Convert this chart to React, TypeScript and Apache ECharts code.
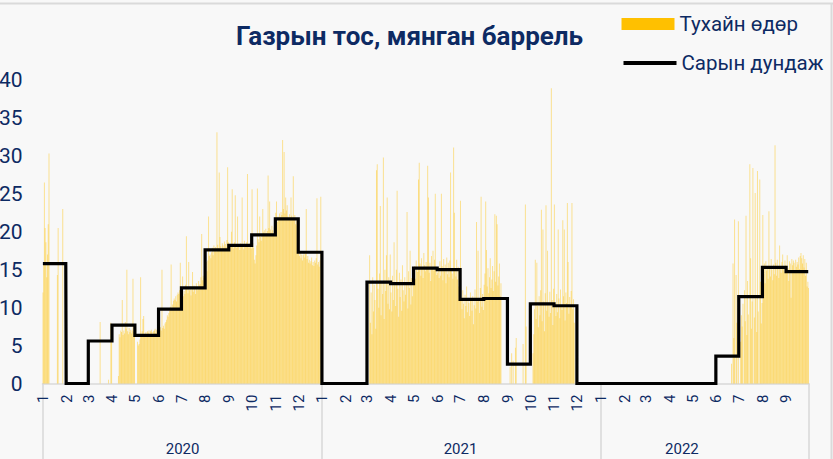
import React, { useEffect, useRef } from "react";
import * as echarts from "echarts";

const TITLE = "Газрын тос, мянган баррель";
const SERIES_DAILY = "Тухайн өдөр";
const SERIES_AVG = "Сарын дундаж";
const YEARS = [2020, 2021, 2022];

// daily values, one array per month
const daily2020: number[][] = [
  [12, 16, 26.5, 20.5, 18.6, 14, 17, 21, 30.3, 0, 0, 0, 0, 0, 0, 0, 0, 0, 0, 14.3, 20.5, 0, 0, 0, 0, 0, 23, 0, 0, 0, 0],
  [0, 0, 0, 0, 0, 0, 0, 0, 0, 0, 0, 0, 0, 0, 0, 0, 0, 0, 0, 0, 0, 0, 0, 0, 0, 0, 0, 0, 0],
  [0, 0, 0, 0, 0, 0, 0, 0, 0, 0, 0, 0, 0, 0, 0, 8.1, 0, 0, 0, 0, 0, 0, 0, 0, 0, 0, 0.5, 0, 0, 8, 7.5],
  [0, 0, 0, 0, 0, 0, 0, 0, 1, 6.5, 6.1, 7, 6.8, 11, 6.4, 7, 6.6, 8.1, 7.2, 15, 6.9, 6.5, 7.3, 6.8, 7.1, 6.6, 7, 13.8, 6.8, 6.7],
  [0, 0, 0, 5.5, 5, 5.2, 5.8, 14, 6.3, 6.9, 8.5, 8.9, 6.2, 6.6, 6.8, 6.4, 6.9, 6.7, 7, 6.5, 6.9, 7.1, 6.8, 6.2, 6.9, 7, 7.2, 6.6, 7.1, 6.9, 6.8],
  [6.8, 7.1, 7.4, 7.0, 15, 7.3, 7.6, 7.2, 7.9, 8.1, 8.4, 9, 8.8, 9.3, 9.6, 10.1, 15.7, 9.8, 10.4, 10.9, 11.2, 11, 11.5, 10.8, 11.7, 12, 11.8, 12.3, 15.9, 12.1],
  [12, 14.1, 11.5, 12.2, 11.8, 13, 19.4, 12.5, 11.9, 16, 12.3, 12.8, 11.6, 12.4, 14.7, 12.1, 12.9, 12.6, 11.8, 13.2, 12.7, 12.3, 13.5, 12.9, 13.1, 14, 19.7, 13.6, 14.2, 13.9, 14.5],
  [15.5, 16, 14.8, 16.2, 22, 16.8, 17, 16.5, 17.3, 17.9, 16.9, 18.2, 17.5, 18, 17.4, 33.1, 18.3, 17.8, 27.8, 19.3, 18.1, 17.6, 18.5, 18.2, 17.9, 18.7, 18.4, 18, 18.9, 28.5, 18.6],
  [18, 17.5, 18.3, 20, 25.6, 18.1, 17.8, 18.6, 24.8, 18.2, 17.9, 22, 18.4, 18, 17.6, 18.5, 18.3, 24.5, 18.1, 17.7, 18.8, 18.2, 18, 18.6, 27.6, 18.3, 17.9, 18.5, 18.1, 17.8],
  [25.6, 18.5, 17.9, 16.3, 15.8, 16.9, 18.2, 25.7, 19, 18.6, 22, 19.3, 18.8, 19.5, 23, 19.9, 20.2, 19.6, 20.4, 19.8, 20.1, 27.4, 20.5, 24, 20.3, 19.9, 20.8, 20.2, 19.7, 20.6, 20.9],
  [22.5, 24, 21.3, 22, 21.7, 22.4, 21.9, 22.6, 22.2, 32.1, 23, 30.5, 22.4, 24.5, 22.8, 23.5, 22, 21.6, 22.3, 21.9, 24.5, 22.1, 21.5, 27.3, 21.8, 22.2, 21, 21.5, 20.8, 21.2],
  [17.5, 16.8, 17.2, 16.5, 17, 16.2, 16.9, 17.4, 16.6, 17.1, 23, 16.4, 16.8, 15.9, 16.3, 15.8, 16.1, 16.6, 15.6, 16, 15.5, 16.2, 15.9, 16.5, 24.4, 15.7, 16, 15.4, 16.2, 24.6, 15.8],
];

const daily2021: number[][] = [
  [0, 0, 0, 0, 0, 0, 0, 0, 0, 0, 0, 0, 0, 0, 0, 0, 0, 0, 0, 0, 0, 0, 0, 0, 0, 0, 0, 0, 0, 0, 0],
  [0, 0, 0, 0, 0, 0, 0, 0, 0, 0, 0, 0, 0, 0, 0, 0, 0, 0, 0, 0, 0, 0, 0, 0, 0, 0, 0, 0],
  [0, 0, 0, 16.9, 8, 12, 6.5, 14, 9.5, 13, 11, 7.2, 28.1, 28.9, 12.5, 10, 14.5, 23.4, 9, 13.5, 11.8, 29.8, 8.5, 15, 12.2, 16.9, 24.5, 10.5, 14, 9.8, 17],
  [12, 9.5, 14.2, 11, 18.6, 13.1, 10.2, 15, 25.4, 12.5, 8.8, 14.6, 11.4, 13.7, 9.6, 15.6, 12.3, 10.8, 14, 11.7, 13.2, 22.6, 9.9, 14.8, 12.6, 17.5, 10.4, 13.9, 11.5, 14.3],
  [14, 15.5, 13.8, 16.2, 15, 14.7, 26.9, 29.1, 15.8, 14.2, 16.5, 15.3, 13.9, 17.2, 15.6, 14.8, 16, 15.2, 28.7, 24.5, 14.6, 15.9, 13.5, 16.8, 15.1, 17.5, 14.9, 16.3, 25, 15.4, 14.3],
  [14.6, 15.3, 13.9, 16.1, 14.2, 25, 15.5, 13.6, 16.4, 14.8, 15.7, 13.2, 16.6, 14.4, 15.9, 14, 16.2, 27.8, 15.1, 14.5, 13.8, 31.1, 22.5, 15, 14.1, 16.3, 13.7, 15.4, 12.8, 14.9],
  [24.1, 11, 9.8, 12.3, 10.5, 8.6, 11.7, 10.2, 12.8, 9.4, 11.3, 10.6, 8.9, 12, 10.9, 9.6, 11.5, 7.8, 10.3, 12.4, 9.9, 21.3, 10.8, 17.5, 11.2, 9.3, 12.6, 24.6, 10.1, 11.8, 9.7],
  [13, 14.5, 24, 17.6, 12.8, 15.2, 11.9, 14, 16.5, 12.6, 13.7, 15.5, 12.2, 14.8, 22.3, 13.4, 22.1, 21, 12.9, 14.1, 15.8, 11.5, 13.2, 0, 0, 0, 0, 0, 0, 0, 0],
  [0, 0, 0, 2.2, 0, 4, 0, 3, 0, 0, 4.7, 6, 0, 0, 0, 0, 0, 0, 0, 0, 5.2, 0, 0, 23.6, 7.5, 0, 0, 0, 0, 0],
  [0, 0, 0, 4, 6.5, 9.8, 16.3, 8.5, 15.9, 10.2, 7.4, 11.5, 9, 12.3, 22.9, 8.2, 20.3, 10.8, 6.9, 11.9, 23.5, 9.6, 17.5, 10.4, 8.8, 12.1, 9.3, 38.9, 11, 7.7, 12.5],
  [23.6, 10.5, 8.9, 11.8, 9.4, 20.3, 11.2, 8.6, 12.4, 10.1, 9.7, 21.5, 11.5, 20.3, 8.3, 12, 10.6, 23.8, 16, 9.2, 11.4, 10.3, 12.2, 23.8, 9.8, 11.1, 8, 0, 0, 0],
  [0, 0, 0, 0, 0, 0, 0, 0, 0, 0, 0, 0, 0, 0, 0, 0, 0, 0, 0, 0, 0, 0, 0, 0, 0, 0, 0, 0, 0, 0, 0],
];

const daily2022: number[][] = [
  [0, 0, 0, 0, 0, 0, 0, 0, 0, 0, 0, 0, 0, 0, 0, 0, 0, 0, 0, 0, 0, 0, 0, 0, 0, 0, 0, 0, 0, 0, 0],
  [0, 0, 0, 0, 0, 0, 0, 0, 0, 0, 0, 0, 0, 0, 0, 0, 0, 0, 0, 0, 0, 0, 0, 0, 0, 0, 0, 0],
  [0, 0, 0, 0, 0, 0, 0, 0, 0, 0, 0, 0, 0, 0, 0, 0, 0, 0, 0, 0, 0, 0, 0, 0, 0, 0, 0, 0, 0, 0, 0],
  [0, 0, 0, 0, 0, 0, 0, 0, 0, 0, 0, 0, 0, 0, 0, 0, 0, 0, 0, 0, 0, 0, 0, 0, 0, 0, 0, 0, 0, 0],
  [0, 0, 0, 0, 0, 0, 0, 0, 0, 0, 0, 0, 0, 0, 0, 0, 0, 0, 0, 0, 0, 0, 0, 0, 0, 0, 0, 0, 0, 0, 0],
  [0, 0, 0, 0, 0, 0, 0, 0, 0, 0, 0, 0, 0, 0, 0, 0, 0, 0, 0, 0, 2.6, 0, 15.8, 6, 21.6, 0, 14.3, 8, 0, 21.4],
  [0, 0, 5.5, 9, 7.5, 10.5, 0, 12.3, 8.2, 22.1, 6.4, 13.5, 9.1, 0, 28.9, 16.5, 7.2, 10.8, 28.4, 0, 8.7, 25.1, 11.2, 6.8, 28, 9.5, 0, 26.9, 13.4, 7.9, 10.6],
  [22.2, 14.5, 15.8, 13.2, 16.1, 14.9, 15.5, 13.8, 22.7, 15.2, 14.1, 16.4, 15, 13.6, 15.7, 14.4, 31.4, 15.9, 14.2, 16.3, 15.1, 13.9, 18.2, 15.4, 14.6, 16, 17, 15.3, 14.8, 16.2, 15.6],
  [14.8, 16.9, 15.2, 13.5, 16.1, 15.8, 11.3, 16.4, 15.6, 16.2, 15.9, 14.7, 16.3, 15.4, 16, 15.7, 16.6, 15.1, 16.8, 17.2, 16.5, 15.8, 16.9, 15.3, 16.4, 14.2, 15.9, 12.8, 13.4, 12.6],
];

// monthly averages
const monthlyAvg2020 = [15.8, 0, 5.6, 7.7, 6.35, 9.8, 12.6, 17.6, 18.2, 19.6, 21.7, 17.3];
const monthlyAvg2021 = [0, 0, 13.35, 13.15, 15.2, 15.0, 11.1, 11.2, 2.55, 10.5, 10.25, 0];
const monthlyAvg2022 = [0, 0, 0, 0, 0, 3.6, 11.45, 15.3, 14.75];

const Y_MIN = 0;
const Y_MAX = 40;
const Y_INTERVAL = 5;

// day (within the year) at which each year label sits
const YEAR_LABEL_DAY = [183, 181, 106];

const NAVY = "#0D2A63";
const FONT = "Roboto, 'Noto Sans', sans-serif";

function build() {
  const yearData: [number, number[][], number[]][] = [
    [YEARS[0], daily2020, monthlyAvg2020],
    [YEARS[1], daily2021, monthlyAvg2021],
    [YEARS[2], daily2022, monthlyAvg2022],
  ];
  const dates: string[] = [];
  const values: number[] = [];
  const avg: number[] = [];
  const monthStarts = new Set<number>();
  const yearStarts = new Set<number>();
  const yearLabels = new Set<number>();
  yearData.forEach(([year, months, avgs], yi) => {
    yearStarts.add(dates.length);
    yearLabels.add(dates.length + YEAR_LABEL_DAY[yi]);
    months.forEach((days, mi) => {
      monthStarts.add(dates.length);
      days.forEach((v, di) => {
        dates.push(`${year}-${mi + 1}-${di + 1}`);
        values.push(v);
        avg.push(avgs[mi]);
      });
    });
  });
  return { dates, values, avg, monthStarts, yearStarts, yearLabels };
}

export default function App() {
  const ref = useRef<HTMLDivElement>(null);
  useEffect(() => {
    if (!ref.current) return;
    const chart = echarts.init(ref.current, undefined, { renderer: "svg" });
    const { dates, values, avg, monthStarts, yearStarts, yearLabels } = build();
    const legendText = { fontSize: 20.5, lineHeight: 22, color: NAVY, fontFamily: FONT };
    chart.setOption({
      animation: false,
      backgroundColor: "#F8F8F8",
      textStyle: { fontFamily: FONT },
      title: {
        text: TITLE,
        left: 236,
        top: 23,
        padding: 0,
        textStyle: { fontSize: 26, fontWeight: "bold", color: NAVY, fontFamily: FONT },
      },
      legend: [
        {
          data: [{ name: SERIES_DAILY, icon: "rect" }],
          left: 621.5,
          top: 13,
          padding: 0,
          itemWidth: 53,
          itemHeight: 12,
          selectedMode: false,
          itemStyle: { color: "#FFC000", opacity: 1 },
          textStyle: legendText,
        },
        {
          data: [{ name: SERIES_AVG }],
          left: 621.5,
          top: 52,
          padding: 0,
          itemWidth: 53,
          itemHeight: 12,
          selectedMode: false,
          itemStyle: { opacity: 0 },
          lineStyle: { width: 4, color: "#000" },
          textStyle: legendText,
        },
      ],
      grid: { left: 42.5, top: 80, width: 766.5, height: 303.5, outerBoundsMode: "none", containLabel: false },
      xAxis: [
        {
          type: "category",
          data: dates,
          position: "bottom",
          axisLine: { show: true, lineStyle: { color: "#D9D9D9", width: 1.5 } },
          axisTick: {
            show: true,
            interval: (i: number) => yearStarts.has(i),
            length: 76,
            lineStyle: { color: "#D9D9D9", width: 1.5 },
          },
          axisLabel: {
            interval: (i: number) => monthStarts.has(i),
            formatter: (v: string) => v.split("-")[1],
            rotate: 90,
            margin: 11,
            fontSize: 15,
            color: NAVY,
            fontFamily: FONT,
          },
          splitLine: { show: false },
        },
        {
          type: "category",
          data: dates,
          position: "bottom",
          axisLine: { show: false },
          axisTick: { show: false },
          axisLabel: {
            interval: (i: number) => yearLabels.has(i),
            formatter: (v: string) => v.split("-")[0],
            margin: 58,
            fontSize: 15,
            color: NAVY,
            fontFamily: FONT,
          },
          splitLine: { show: false },
        },
      ],
      yAxis: {
        type: "value",
        min: Y_MIN,
        max: Y_MAX,
        interval: Y_INTERVAL,
        axisLine: { show: false },
        axisTick: { show: false },
        splitLine: { show: false },
        axisLabel: { fontSize: 21, color: NAVY, margin: 20, fontFamily: FONT },
      },
      graphic: [
        { type: "line", shape: { x1: 0, y1: 3.5, x2: 833, y2: 3.5 }, style: { stroke: "#DADADA", lineWidth: 2 } },
        { type: "line", shape: { x1: 831.5, y1: 3, x2: 831.5, y2: 459 }, style: { stroke: "#DADADA", lineWidth: 2 } },
      ],
      series: [
        {
          name: SERIES_DAILY,
          type: "bar",
          data: values,
          xAxisIndex: 0,
          barCategoryGap: "35%",
          itemStyle: { color: "rgba(255,192,0,0.42)" },
          z: 2,
        },
        {
          name: SERIES_AVG,
          type: "line",
          data: avg,
          xAxisIndex: 0,
          step: "middle",
          symbol: "none",
          showSymbol: false,
          lineStyle: { color: "#000", width: 3.2, join: "miter" },
          z: 3,
        },
      ],
    });
    return () => chart.dispose();
  }, []);
  return (
    <div
      ref={ref}
      style={{ position: "fixed", left: 0, top: 0, width: 833, height: 459 }}
    />
  );
}
